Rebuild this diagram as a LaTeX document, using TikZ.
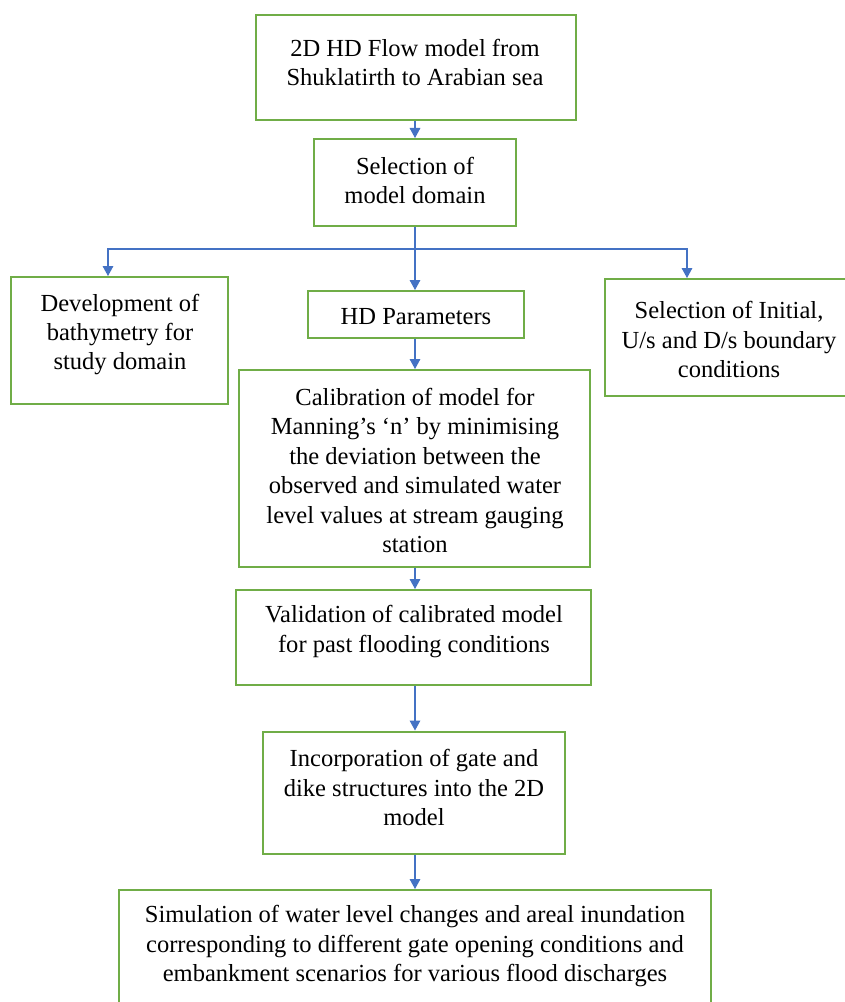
\documentclass[tikz,border=0pt]{standalone}
\usepackage{fontspec}
\setmainfont{Liberation Serif}
\usetikzlibrary{arrows.meta}
\definecolor{boxgreen}{RGB}{112,173,71}
\definecolor{arrblue}{RGB}{68,114,196}
\tikzset{
  bx/.style={draw=boxgreen, line width=1.5pt, inner sep=0pt, fill=white},
  txt/.style={font=\fontsize{18.4pt}{22.1pt}\selectfont, align=center, inner sep=0pt, text=black},
  arr/.style={draw=arrblue, line width=0.8pt, -{Triangle[length=7.5pt,width=8pt]}},
  ln/.style={draw=arrblue, line width=0.8pt}
}
\begin{document}
\begin{tikzpicture}[x=0.75pt,y=-0.75pt]
\useasboundingbox (0,0) rectangle (845,1002);
\fill[white] (0,0) rectangle (845,1002);
\clip (0,0) rectangle (845,1002);

\coordinate (ax) at (415,0);
\coordinate (lx) at (108,0);
\coordinate (rx) at (687,0);
\coordinate (br) at (415,249);

% boxes
\node[bx, minimum width=240pt, minimum height=78.75pt] (b1) at (416,67.5) {};
\node[bx, minimum width=151.5pt, minimum height=65.25pt] (b2) at (415,182.5) {};
\node[bx, minimum width=162.75pt, minimum height=95.25pt] (L) at (119.5,340.5) {};
\node[bx, minimum width=162pt, minimum height=35.25pt] (hd) at (416,314.5) {};
\node[bx, minimum width=185.25pt, minimum height=87.75pt] (R) at (728.5,337.5) {};
\node[bx, minimum width=263.25pt, minimum height=147.75pt] (C) at (414.5,468.5) {};
\node[bx, minimum width=266.25pt, minimum height=71.25pt] (V) at (413.5,637.5) {};
\node[bx, minimum width=226.5pt, minimum height=91.875pt] (I) at (414,792.75) {};
\node[bx, minimum width=444pt, minimum height=91.5pt] (S) at (415,951) {};

% texts
\node[txt] (t1) at (415,62.5) {2D HD Flow model from\\Shuklatirth to Arabian sea};
\node[txt] (t2) at (415,180.5) {Selection of\\model domain};
\node[txt] (tL) at (120,334.5) {Development of\\bathymetry for\\study domain};
\node[txt] (thd) at (416,316.5) {HD Parameters};
\node[txt] (tR) at (729,339.5) {Selection of Initial,\\U/s and D/s boundary\\conditions};
\node[txt] (tC) at (415,470.5) {Calibration of model for\\Manning’s ‘n’ by minimising\\the deviation between the\\observed and simulated water\\level values at stream gauging\\station};
\node[txt] (tV) at (414,631.5) {Validation of calibrated model\\for past flooding conditions};
\node[txt] (tI) at (414,787.5) {Incorporation of gate and\\dike structures into the 2D\\model};
\node[txt] (tS) at (415,946) {Simulation of water level changes and areal inundation\\corresponding to different gate opening conditions and\\embankment scenarios for various flood discharges};

% connectors
\draw[arr] (b1.south -| ax) -- (b2.north -| ax);
\draw[arr] (b2.south -| ax) -- (hd.north -| ax);
\draw[arr] (br) -| (L.north -| lx);
\draw[arr] (br) -| (R.north -| rx);
\draw[arr] (hd.south -| ax) -- (C.north -| ax);
\draw[arr] (C.south -| ax) -- (V.north -| ax);
\draw[arr] (V.south -| ax) -- (I.north -| ax);
\draw[arr] (I.south -| ax) -- (S.north -| ax);
\end{tikzpicture}
\end{document}
